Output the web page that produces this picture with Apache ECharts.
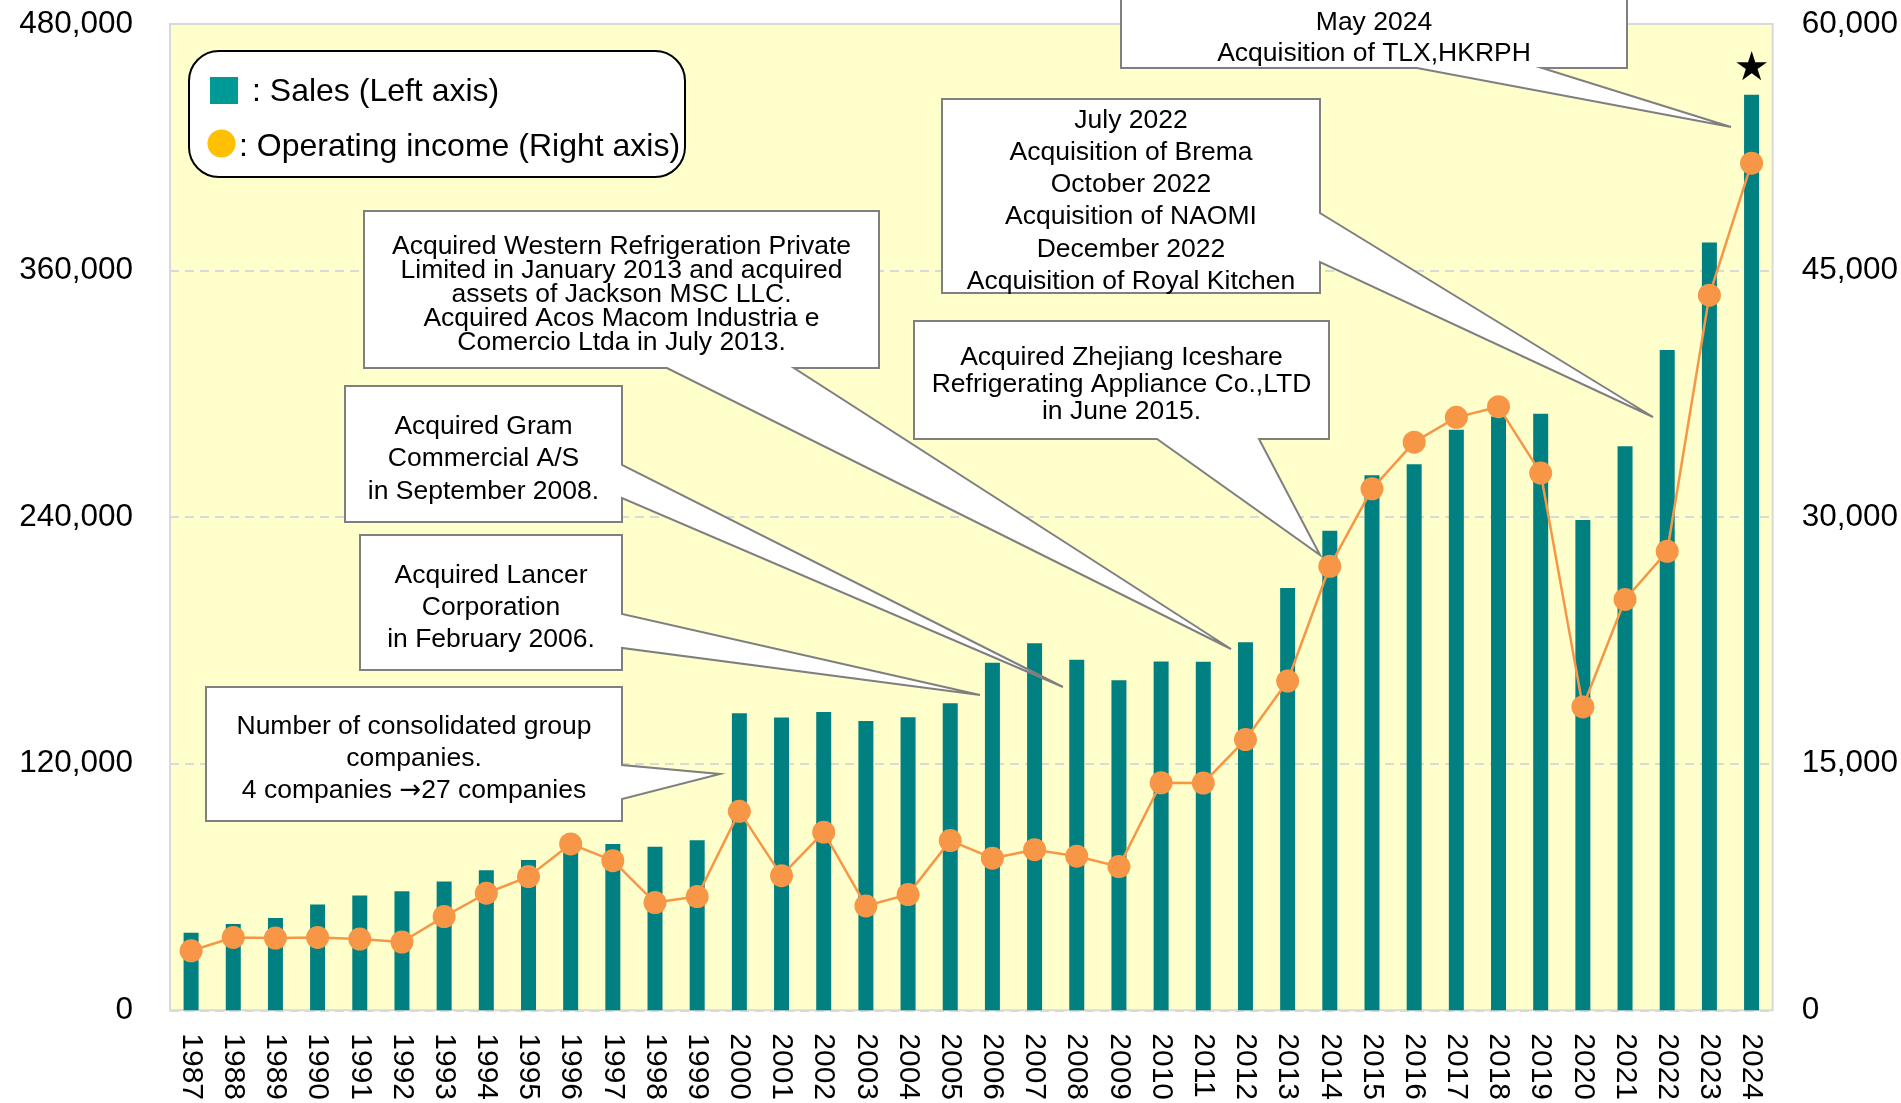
<!DOCTYPE html>
<html style="height: 100%">
   <head>
       <meta charset="utf-8">
   </head>
   <body style="height: 100%; margin: 0; background: #fff">
       <div id="container" style="width: 1901px; height: 1103px"></div>
       <script type="text/javascript" src="https://cdn.jsdelivr.net/npm/echarts@6/dist/echarts.min.js"></script>
       <script type="text/javascript">
var years = ['1987','1988','1989','1990','1991','1992','1993','1994','1995','1996','1997','1998','1999',
    '2000','2001','2002','2003','2004','2005','2006','2007','2008','2009',
    '2010','2011','2012','2013','2014','2015','2016','2017','2018','2019',
    '2020','2021','2022','2023','2024'];
// sales, left axis
var sales = [37700, 41950, 44860, 51460, 55830, 57970, 62630, 68160, 73170, 81800, 80930, 79630, 82700,
    144530, 142430, 145180, 140800, 142590, 149400, 169150, 178670, 170600, 160560,
    169780, 169620, 179150, 205550, 233380, 260420, 265760, 282560, 289000, 290330,
    238580, 274500, 321400, 373700, 445550];
// operating income, right axis
var income = [3620, 4430, 4390, 4430, 4330, 4150, 5700, 7120, 8130, 10120, 9100, 6550, 6920,
    12100, 8190, 10830, 6350, 7040, 10320, 9250, 9770, 9370, 8740,
    13840, 13820, 16470, 20030, 27010, 31720, 34560, 36070, 36720, 32680,
    18450, 24990, 27920, 43500, 51530];
var leftTicks = [0, 120000, 480000];
var rightTicks = [0, 15000, 60000];

var FONT = '"Liberation Sans", Arial, sans-serif';

// callouts: box [x0,y0,x1,y1], side of the pointer, pointer base, tip, text lines
var callouts = [
    {box: [1121, -2, 1627, 68], side: 'bottom', base: [1417, 1542], tip: [1731, 127], lh: 31,
     lines: ['May 2024', 'Acquisition of TLX,HKRPH']},
    {box: [942, 99, 1320, 293], side: 'right', base: [213, 262], tip: [1653, 417], lh: 32.3,
     lines: ['July 2022', 'Acquisition of Brema', 'October 2022', 'Acquisition of NAOMI', 'December 2022', 'Acquisition of Royal Kitchen']},
    {box: [914, 321, 1329, 439], side: 'bottom', base: [1157, 1259], tip: [1320, 555], lh: 27,
     lines: ['Acquired Zhejiang Iceshare', 'Refrigerating Appliance Co.,LTD', 'in June 2015.']},
    {box: [364, 211, 879, 368], side: 'bottom', base: [667, 794], tip: [1231, 649], lh: 24,
     lines: ['Acquired Western Refrigeration Private', 'Limited in January 2013 and acquired', 'assets of Jackson MSC LLC.', 'Acquired Acos Macom Industria e', 'Comercio Ltda in July 2013.']},
    {box: [345, 386, 622, 522], side: 'right', base: [465, 498], tip: [1063, 687], lh: 32.5,
     lines: ['Acquired Gram', 'Commercial A/S', 'in September 2008.']},
    {box: [360, 535, 622, 670], side: 'right', base: [614, 648], tip: [980, 695], lh: 32,
     lines: ['Acquired Lancer', 'Corporation', 'in February 2006.']},
    {box: [206, 687, 622, 821], side: 'right', base: [765, 799], tip: [720, 774], lh: 32,
     lines: ['Number of consolidated group', 'companies.', '4 companies {arr|\u2192}27 companies']}
];

var dom = document.getElementById("container");
var myChart = echarts.init(dom);

var graphics = [];
callouts.forEach(function (c) {
    var x0 = c.box[0], y0 = c.box[1], x1 = c.box[2], y1 = c.box[3];
    var pts;
    if (c.side === 'bottom') {
        pts = [[x0, y0], [x1, y0], [x1, y1], [c.base[1], y1], c.tip, [c.base[0], y1], [x0, y1]];
    } else {
        pts = [[x0, y0], [x1, y0], [x1, c.base[0]], c.tip, [x1, c.base[1]], [x1, y1], [x0, y1]];
    }
    graphics.push({
        type: 'polygon', z: 100,
        shape: {points: pts},
        style: {fill: '#fff', stroke: '#7f7f7f', lineWidth: 2, lineJoin: 'miter'}
    });
    graphics.push({
        type: 'text', z: 101,
        x: (x0 + x1) / 2, y: (y0 + y1) / 2 + 5,
        style: {
            text: c.lines.join('\n'), font: '26.5px ' + FONT, fill: '#000',
            textAlign: 'center', textVerticalAlign: 'middle', align: 'center', verticalAlign: 'middle',
            lineHeight: c.lh,
            rich: {arr: {fontFamily: 'DejaVu Sans', fontSize: 26, lineHeight: c.lh, fill: '#000'}}
        }
    });
});

// legend box
graphics.push({type: 'rect', z: 100, shape: {x: 189, y: 51, width: 496, height: 126, r: 30},
    style: {fill: '#fff', stroke: '#000', lineWidth: 2}});
graphics.push({type: 'rect', z: 101, shape: {x: 210, y: 77, width: 28, height: 27},
    style: {fill: '#009a96'}});
graphics.push({type: 'circle', z: 101, shape: {cx: 221.5, cy: 143.5, r: 14},
    style: {fill: '#ffc000'}});
graphics.push({type: 'text', z: 101, x: 252, y: 92,
    style: {text: ': Sales (Left axis)', font: '32px ' + FONT, fill: '#000',
        textVerticalAlign: 'middle', verticalAlign: 'middle'}});
graphics.push({type: 'text', z: 101, x: 239, y: 147,
    style: {text: ': Operating income (Right axis)', font: '32px ' + FONT, fill: '#000',
        textVerticalAlign: 'middle', verticalAlign: 'middle'}});

var fmt = function (v) { return v.toLocaleString('en-US'); };

option = {
    animation: false,
    backgroundColor: '#fff',
    grid: {
        left: 170, right: 128, top: 24, bottom: 92,
        show: true, backgroundColor: '#ffffcc', borderColor: '#d9d9d9', borderWidth: 2
    },
    xAxis: {
        type: 'category',
        data: years,
        axisLine: {show: false},
        axisTick: {show: false},
        axisLabel: {rotate: -90, margin: 23, fontSize: 30, fontFamily: FONT, color: '#000', interval: 0}
    },
    yAxis: [
        {
            type: 'value', min: leftTicks[0], max: leftTicks[2], interval: leftTicks[1],
            axisLine: {show: false}, axisTick: {show: false},
            axisLabel: {fontSize: 31.5, fontFamily: FONT, color: '#000', margin: 37, formatter: fmt},
            splitLine: {show: true, lineStyle: {type: [9, 6], color: '#d9d9d9', width: 2}}
        },
        {
            type: 'value', min: rightTicks[0], max: rightTicks[2], interval: rightTicks[1],
            axisLine: {show: false}, axisTick: {show: false},
            axisLabel: {fontSize: 31.5, fontFamily: FONT, color: '#000', margin: 29, formatter: fmt},
            splitLine: {show: false}
        }
    ],
    series: [
        {
            name: 'Sales',
            type: 'bar',
            yAxisIndex: 0,
            barWidth: 15,
            itemStyle: {color: '#008080'},
            data: sales.map(function (v, i) {
                if (i === sales.length - 1) {
                    return {value: v, label: {show: true, position: 'top', distance: 5,
                        formatter: '\u2605', fontSize: 40, color: '#000', fontFamily: 'DejaVu Sans'}};
                }
                return v;
            })
        },
        {
            name: 'Operating income',
            type: 'line',
            yAxisIndex: 1,
            symbol: 'circle',
            symbolSize: 23,
            lineStyle: {color: '#f79646', width: 2.5},
            itemStyle: {color: '#f79646'},
            data: income
        }
    ],
    graphic: graphics
};
if (option && typeof option === "object") {
    myChart.setOption(option, true);
}
       </script>
   </body>
</html>
